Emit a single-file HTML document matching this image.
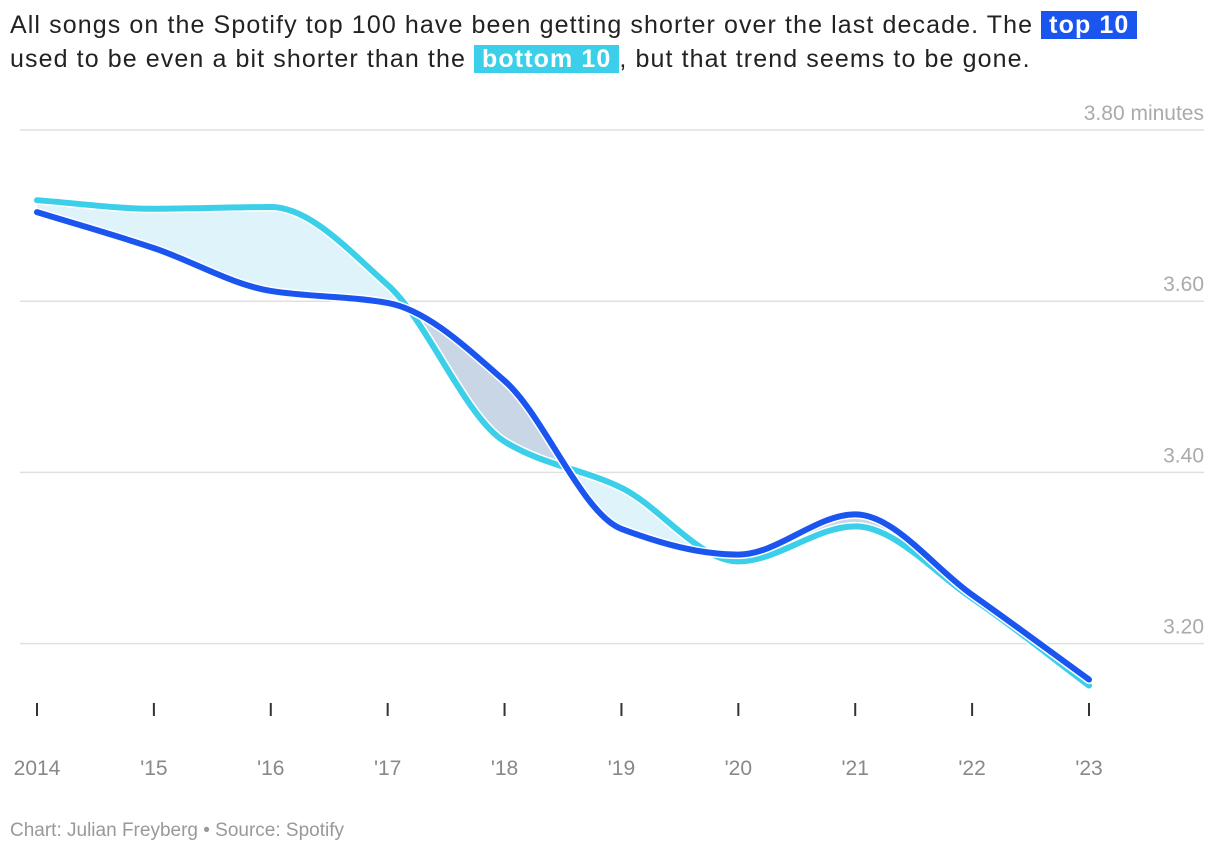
<!DOCTYPE html>
<html><head><meta charset="utf-8"><style>
body{margin:0;background:#fff;width:1220px;height:856px;overflow:hidden;font-family:"Liberation Sans",sans-serif;}
#title{position:absolute;left:10px;top:8px;width:1210px;font-size:25px;line-height:34px;color:#222;white-space:nowrap;letter-spacing:1.1px;}
.hl{color:#fff;font-weight:bold;padding:0 8px;}
#foot{position:absolute;left:10px;top:820px;font-size:19px;color:#999;}
svg{position:absolute;left:0;top:0;}
</style></head><body>
<div id="title">All songs on the Spotify top 100 have been getting shorter over the last decade. The <span class="hl" style="background:#1a55ef">top 10</span><br>used to be even a bit shorter than the <span class="hl" style="background:#3ccfea">bottom 10</span>, but that trend seems to be gone.</div>
<svg id="chart" width="1220" height="856"></svg>
<div id="foot">Chart: Julian Freyberg • Source: Spotify</div>
<script>
const years = ["2014","'15","'16","'17","'18","'19","'20","'21","'22","'23"];
const top10 = [3.704,3.662,3.612,3.598,3.507,3.334,3.304,3.351,3.257,3.158];
const bottom10 = [3.718,3.708,3.710,3.619,3.436,3.382,3.296,3.337,3.253,3.151];
const yTicks = [3.2,3.4,3.6,3.8];
const yTickLabels = ["3.20","3.40","3.60","3.80 minutes"];

const NS="http://www.w3.org/2000/svg";
const svg=document.getElementById('chart');
const x=i=>37+i*(1089-37)/(years.length-1);
const y=v=>130+(3.8-v)*856;
function mk(t,a){const e=document.createElementNS(NS,t);for(const k in a)e.setAttribute(k,a[k]);svg.appendChild(e);return e;}
function curve(vals,rev){
  const pts=vals.map((v,i)=>[x(i),y(v)]);const n=pts.length;
  const d=[],m=[];
  for(let i=0;i<n-1;i++)d.push((pts[i+1][1]-pts[i][1])/(pts[i+1][0]-pts[i][0]));
  m[0]=d[0];m[n-1]=d[n-2];
  for(let i=1;i<n-1;i++){m[i]=d[i-1]*d[i]<=0?0:2/(1/d[i-1]+1/d[i]);}
  let s="";
  if(!rev){s="M"+pts[0][0]+","+pts[0][1];
    for(let i=0;i<n-1;i++){const h=(pts[i+1][0]-pts[i][0])/3;
      s+=` C${pts[i][0]+h},${pts[i][1]+m[i]*h} ${pts[i+1][0]-h},${pts[i+1][1]-m[i+1]*h} ${pts[i+1][0]},${pts[i+1][1]}`;}}
  else{s="L"+pts[n-1][0]+","+pts[n-1][1];
    for(let i=n-1;i>0;i--){const h=(pts[i][0]-pts[i-1][0])/3;
      s+=` C${pts[i][0]-h},${pts[i][1]-m[i]*h} ${pts[i-1][0]+h},${pts[i-1][1]+m[i-1]*h} ${pts[i-1][0]},${pts[i-1][1]}`;}}
  return s;
}
yTicks.forEach((v,i)=>{
  const g=mk('line',{x1:20,x2:1204,y1:y(v),y2:y(v),stroke:'#e0e0e0','stroke-width':1.5});
  
  
  const t=mk('text',{x:1204,y:y(v)-10,'text-anchor':'end','font-size':21,fill:'#aaa'});
  t.textContent=yTickLabels[i];
  
  
});
years.forEach((yr,i)=>{
  const tk=mk('line',{x1:x(i),x2:x(i),y1:703,y2:716,stroke:'#333','stroke-width':2});
  
  
  const t=mk('text',{x:x(i),y:775,'text-anchor':'middle','font-size':21,fill:'#888'});
  t.textContent=yr;
  
  
});
const topPath=curve(top10,false);
const defs=mk('defs',{});
const c1=document.createElementNS(NS,'clipPath');c1.setAttribute('id','above');defs.appendChild(c1);
const p1=document.createElementNS(NS,'path');p1.setAttribute('d',topPath+` L${x(9)},0 L${x(0)},0 Z`);c1.appendChild(p1);
const c2=document.createElementNS(NS,'clipPath');c2.setAttribute('id','below');defs.appendChild(c2);
const p2=document.createElementNS(NS,'path');p2.setAttribute('d',topPath+` L${x(9)},856 L${x(0)},856 Z`);c2.appendChild(p2);
const band=curve(bottom10,false)+curve(top10,true)+"Z";
const a1=mk('path',{d:band,fill:'#dff3fb','clip-path':'url(#above)'});


const a2=mk('path',{d:band,fill:'#c9d6e6','clip-path':'url(#below)'});


[[bottom10,'#3ccfea','line-bottom10'],[top10,'#1a55ef','line-top10']].forEach(([vals,col,nm])=>{
  const d=curve(vals,false);
  const o=mk('path',{d,fill:'none',stroke:'#fff','stroke-width':9,'stroke-linecap':'round'});
  
  
  const l=mk('path',{d,fill:'none',stroke:col,'stroke-width':6,'stroke-linecap':'round'});
  
  
});
</script>
</body></html>
